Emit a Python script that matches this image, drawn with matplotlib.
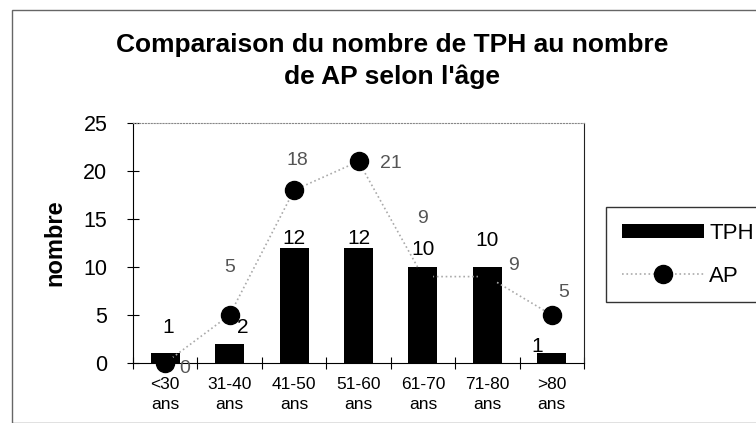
import matplotlib.pyplot as plt
from matplotlib.patches import Rectangle
import numpy as np

plt.rcParams['font.family'] = ['Liberation Sans', 'DejaVu Sans']

# data
ages = ["<30\nans", "31-40\nans", "41-50\nans", "51-60\nans", "61-70\nans", "71-80\nans", ">80\nans"]
tph = [1, 2, 12, 12, 10, 10, 1]
ap = [0, 5, 18, 21, 9, 9, 5]

# label offsets (x in categories, y in data units) - layout only
tph_dx = [0.05, 0.2, 0.0, 0.0, 0.0, 0.0, -0.22]
tph_dy = [2.75, 1.75, 1.0, 1.0, 1.8, 2.8, 0.7]
ap_dx = [0.31, 0.0, 0.05, 0.5, 0.0, 0.4, 0.19]
ap_dy = [-0.6, 5.0, 3.1, -0.2, 6.1, 1.2, 2.3]

fig = plt.figure(figsize=(7.56, 4.23), dpi=100)
ax = fig.add_axes([133 / 756, 1 - 363 / 423, (584 - 133) / 756, (363 - 123) / 423])

x = np.arange(len(ages))
bars = ax.bar(x, tph, width=0.45, color='black', label='TPH', zorder=2)
line, = ax.plot(x, ap, linestyle=':', color='#aaaaaa', linewidth=1.2, marker='o',
                markersize=13, markerfacecolor='black', markeredgecolor='black',
                label='AP', zorder=3, clip_on=False)

for i in range(len(x)):
    ax.text(x[i] + tph_dx[i], tph[i] + tph_dy[i], str(tph[i]), ha='center', va='center',
            fontsize=15, color='black', zorder=4)
    ax.text(x[i] + ap_dx[i], ap[i] + ap_dy[i], str(ap[i]), ha='center', va='center',
            fontsize=14, color='#555555', zorder=4, clip_on=False)

ax.set_xlim(-0.5, len(ages) - 0.5)
ax.set_ylim(0, 25)
ax.set_yticks([0, 5, 10, 15, 20, 25])
ax.tick_params(axis='y', direction='inout', length=9, labelsize=15.5, pad=14)
ax.set_xticks(np.arange(len(ages) + 1) - 0.5)
ax.set_xticklabels([])
ax.tick_params(axis='x', direction='inout', length=8)
ax.set_xticks(x, minor=True)
ax.set_xticklabels(ages, minor=True, fontsize=12.5, linespacing=1.4)
ax.tick_params(axis='x', which='minor', length=0, pad=10)
ax.spines['top'].set_color('#888888')
ax.spines['top'].set_linestyle(':')
ax.spines['right'].set_color('#222222')
ax.set_ylabel('nombre', fontsize=17, fontweight='bold', labelpad=12)

fig.text(392 / 756, 1 - 61 / 423, "Comparaison du nombre de TPH au nombre\nde AP selon l'âge",
         ha='center', va='center', fontsize=19, fontweight='bold', linespacing=1.4)

leg = fig.legend(handles=[bars, line], loc='upper left', bbox_to_anchor=(606 / 756, 1 - 207 / 423),
                 borderaxespad=0, frameon=True, fontsize=16, handlelength=3.7, handleheight=0.6,
                 borderpad=0.7, labelspacing=1.0, fancybox=False, edgecolor='black',
                 handletextpad=0.25)
leg.get_frame().set_linewidth(1.0)

fig.patches.append(Rectangle((12 / 756, 0), 1, 1 - 10 / 423, transform=fig.transFigure,
                             fill=False, edgecolor='#666666', linewidth=1))

fig.savefig('out.png', dpi=100)
